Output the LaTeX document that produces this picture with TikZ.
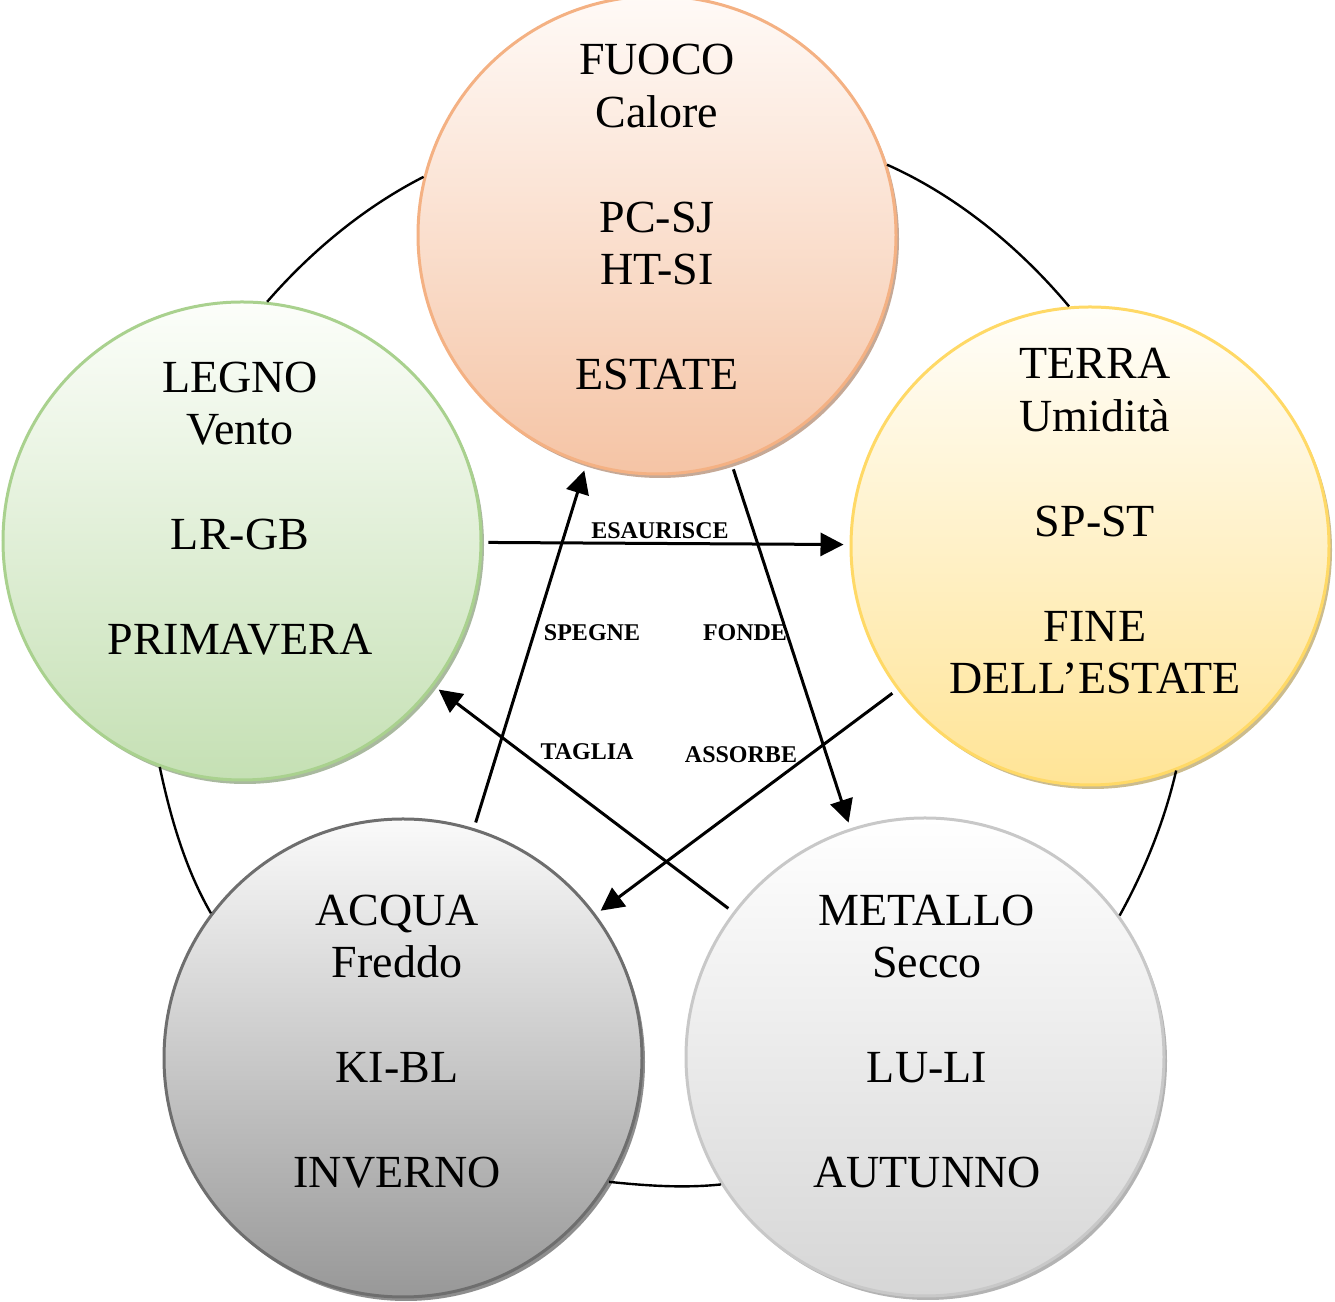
\documentclass[tikz,border=0pt]{standalone}
\usepackage{fontspec}
\setmainfont{Liberation Serif}
\usetikzlibrary{arrows.meta,shadows}

\definecolor{fuocoRand}{RGB}{244,177,131}
\definecolor{fuocoOben}{RGB}{255,250,247}
\definecolor{fuocoUnten}{RGB}{245,196,165}
\definecolor{legnoRand}{RGB}{169,209,142}
\definecolor{legnoOben}{RGB}{252,254,250}
\definecolor{legnoUnten}{RGB}{197,224,180}
\definecolor{terraRand}{RGB}{255,217,102}
\definecolor{terraOben}{RGB}{255,254,250}
\definecolor{terraUnten}{RGB}{255,228,150}
\definecolor{acquaRand}{RGB}{110,110,110}
\definecolor{acquaOben}{RGB}{250,250,250}
\definecolor{acquaUnten}{RGB}{152,152,152}
\definecolor{metalloRand}{RGB}{200,200,200}
\definecolor{metalloOben}{RGB}{255,255,255}
\definecolor{metalloUnten}{RGB}{214,214,214}

\tikzset{
  elem/.style={circle, minimum size=239pt, inner sep=0pt, line width=1.5pt,
    draw=#1Rand, top color=#1Oben, bottom color=#1Unten,
    drop shadow={shadow xshift=1.5pt, shadow yshift=-2pt, fill=#1Unten!75!black, opacity=0.8}},
  elemtxt/.style={align=center, anchor=base, inner sep=0pt,
    font=\fontsize{23}{26.25}\selectfont},
  verbo/.style={inner sep=0pt, font=\fontsize{12}{14}\selectfont\bfseries},
  ciclo/.style={line width=1.2pt, looseness=0.85},
  freccia/.style={line width=1.5pt, -{Triangle[length=11.5pt,width=11.5pt]},
    shorten <=3pt, shorten >=3pt},
}

\begin{document}
\begin{tikzpicture}[x=0.5pt,y=0.5pt]
  \useasboundingbox (0,0) rectangle (1335,1302);

  % Elemente
  \node[elem=fuoco]   (fuoco)   at (657,1067) {};
  \node[elem=legno]   (legno)   at (242,761)  {};
  \node[elem=terra]   (terra)   at (1090,756) {};
  \node[elem=acqua]   (acqua)   at (403,244)  {};
  \node[elem=metallo] (metallo) at (925,245)  {};

  \node[elemtxt] (fuocotxt)   at (657,912)  {FUOCO\\Calore\\[26.25pt]PC-SJ\\HT-SI\\[26.25pt]ESTATE};
  \node[elemtxt] (legnotxt)   at (240,647)  {LEGNO\\Vento\\[26.25pt]LR-GB\\[26.25pt]PRIMAVERA};
  \node[elemtxt] (terratxt)   at (1095,608) {TERRA\\Umidità\\[26.25pt]SP-ST\\[26.25pt]FINE\\DELL’ESTATE};
  \node[elemtxt] (acquatxt)   at (397,114)  {ACQUA\\Freddo\\[26.25pt]KI-BL\\[26.25pt]INVERNO};
  \node[elemtxt] (metallotxt) at (927,114)  {METALLO\\Secco\\[26.25pt]LU-LI\\[26.25pt]AUTUNNO};

  % Kreislauf
  \draw[ciclo] (fuoco.17)     to[out=-24, in=130] (terra.95);
  \draw[ciclo] (terra.-69)    to[out=-103, in=61] (metallo.36);
  \draw[ciclo] (metallo.-148) to[out=186, in=-6]  (acqua.-31);
  \draw[ciclo] (acqua.143)    to[out=120, in=-78] (legno.-110);
  \draw[ciclo] (legno.84)     to[out=49, in=207]  (fuoco.166);

  % Pfeile
  \draw[freccia] (legno) -- (terra);
  \draw[freccia] (acqua) -- (fuoco);
  \draw[freccia] (fuoco) -- (metallo);
  \draw[freccia] (metallo) -- (legno);
  \draw[freccia] (terra) -- (acqua);

  % Beschriftungen
  \node[verbo] (esaurisce) at (660,771) {ESAURISCE};
  \node[verbo] (spegne)    at (592,669) {SPEGNE};
  \node[verbo] (fonde)     at (745,669) {FONDE};
  \node[verbo] (taglia)    at (587,550) {TAGLIA};
  \node[verbo] (assorbe)   at (741,547) {ASSORBE};
\end{tikzpicture}
\end{document}
